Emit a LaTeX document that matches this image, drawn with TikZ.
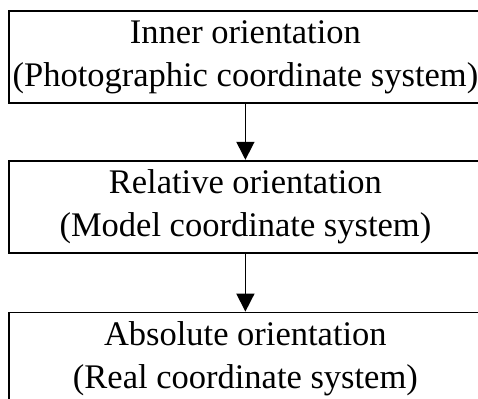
\documentclass[tikz,border=0pt]{standalone}
\usepackage{fontspec}
\setmainfont{Liberation Serif}
\usetikzlibrary{positioning,arrows.meta}
\tikzset{>={Triangle[width=18pt,length=18pt]}}
\tikzset{stage/.style={draw, line width=1.8pt, minimum width=473pt, minimum height=92pt, inner sep=0pt, align=center, font=\fontsize{34.5}{43}\selectfont}}

\begin{document}
\begin{tikzpicture}[x=1pt,y=1pt]
  \useasboundingbox (0,0) rectangle (478,-398);
  \node[stage, anchor=north west] (inner) at (8,-10) {Inner orientation\\(Photographic coordinate system)};
  \node[stage, below=56pt of inner] (relative) {Relative orientation\\(Model coordinate system)};
  \node[stage, below=58pt of relative] (absolute) {Absolute orientation\\(Real coordinate system)};
  \draw[->, line width=1.6pt] (inner) -- (relative);
  \draw[->, line width=1.6pt] (relative) -- (absolute);
\end{tikzpicture}
\end{document}
